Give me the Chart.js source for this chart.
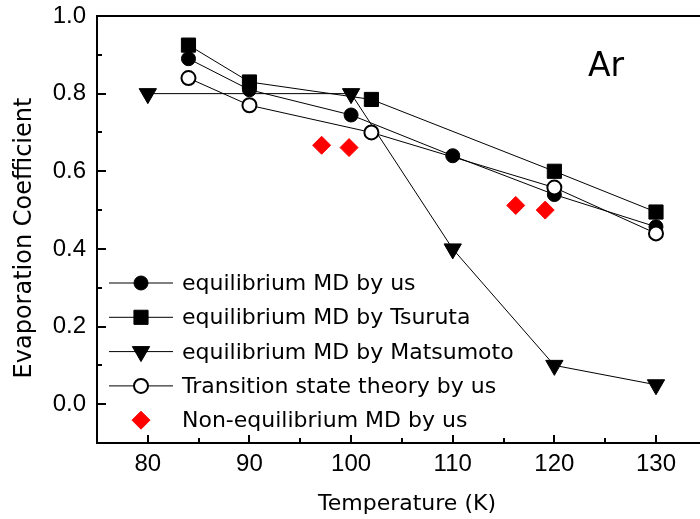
<!DOCTYPE html>
<html lang="en">
<head>
<meta charset="UTF-8">
<title>Evaporation Coefficient of Ar</title>
<script src="https://cdn.jsdelivr.net/npm/chart.js"></script>
<style>
  body { margin: 0; background: #fff; }
  canvas { display: block; }
</style>
</head>
<body>
<canvas id="chart" width="700" height="519"></canvas>
<script>
// values
const tempUs = [84, 90, 100, 110, 120, 130];
const coefUs = [0.89, 0.81, 0.745, 0.64, 0.54, 0.457];

const tempTsuruta = [84, 90, 102, 120, 130];
const coefTsuruta = [0.925, 0.83, 0.785, 0.60, 0.495];

const tempMatsumoto = [80, 100, 110, 120, 130];
const coefMatsumoto = [0.80, 0.80, 0.40, 0.10, 0.05];

const tempTST = [84, 90, 102, 120, 130];
const coefTST = [0.84, 0.77, 0.70, 0.558, 0.44];

const tempNonEq = [97.1, 99.8, 116.2, 119.1];
const coefNonEq = [0.667, 0.661, 0.512, 0.50];

const seriesLabels = [
  'equilibrium MD by us',
  'equilibrium MD by Tsuruta',
  'equilibrium MD by Matsumoto',
  'Transition state theory by us',
  'Non-equilibrium MD by us'
];
const xTicks = [80, 90, 100, 110, 120, 130];
const yTicks = [0.0, 0.2, 0.4, 0.6, 0.8, 1.0];

const pts = (xs, ys) => xs.map((x, i) => ({ x: x, y: ys[i] }));

const datasets = [
  { label: seriesLabels[0], data: pts(tempUs, coefUs), showLine: true,
    borderColor: '#000', borderWidth: 1, pointStyle: 'circle', pointRadius: 7,
    pointBackgroundColor: '#000', pointBorderColor: '#000', pointBorderWidth: 1, order: 2 },
  { label: seriesLabels[1], data: pts(tempTsuruta, coefTsuruta), showLine: true,
    borderColor: '#000', borderWidth: 1, pointStyle: 'rect', pointRadius: 10,
    pointBackgroundColor: '#000', pointBorderColor: '#000', pointBorderWidth: 1, order: 3 },
  { label: seriesLabels[2], data: pts(tempMatsumoto, coefMatsumoto), showLine: true,
    borderColor: '#000', borderWidth: 1, pointStyle: 'triangle', pointRotation: 180, pointRadius: 10,
    pointBackgroundColor: '#000', pointBorderColor: '#000', pointBorderWidth: 1, order: 4 },
  { label: seriesLabels[3], data: pts(tempTST, coefTST), showLine: true,
    borderColor: '#000', borderWidth: 1, pointStyle: 'circle', pointRadius: 7,
    pointBackgroundColor: '#fff', pointBorderColor: '#000', pointBorderWidth: 2, order: 1 },
  { label: seriesLabels[4], data: pts(tempNonEq, coefNonEq), showLine: false,
    borderColor: '#f00', pointStyle: 'rectRot', pointRadius: 9,
    pointBackgroundColor: '#f00', pointBorderColor: '#f00', pointBorderWidth: 1, order: 0 }
];

function marker(ctx, ds, x, y) {
  ctx.save();
  ctx.fillStyle = ds.pointBackgroundColor;
  ctx.strokeStyle = ds.pointBorderColor;
  ctx.lineWidth = ds.pointBorderWidth;
  Chart.helpers.drawPoint(ctx, {
    pointStyle: ds.pointStyle, radius: ds.pointRadius,
    rotation: ds.pointRotation || 0, borderWidth: ds.pointBorderWidth
  }, x, y);
  ctx.restore();
}

// no extra room for edge labels, the plot box is fixed
function noPad(s) {
  s.paddingTop = 0; s.paddingBottom = 0;
  s.paddingLeft = 0; s.paddingRight = 0;
}

// frame, inward ticks, legend and titles
const decor = {
  id: 'decor',
  afterDraw(chart) {
    const ctx = chart.ctx;
    const area = chart.chartArea;
    const xs = chart.scales.x, ys = chart.scales.y;
    ctx.save();
    ctx.strokeStyle = '#000';
    ctx.lineWidth = 2;
    ctx.beginPath();
    ctx.moveTo(area.left - 1, area.top);
    ctx.lineTo(area.right, area.top);
    ctx.stroke();

    // x ticks pointing up
    ctx.beginPath();
    xTicks.forEach((v) => {
      const px = Math.round(xs.getPixelForValue(v));
      ctx.moveTo(px, area.bottom); ctx.lineTo(px, area.bottom - 8);
      const m = v + 5;
      if (m < xs.max) {
        const pm = Math.round(xs.getPixelForValue(m));
        ctx.moveTo(pm, area.bottom); ctx.lineTo(pm, area.bottom - 5);
      }
    });
    // y ticks pointing right
    yTicks.forEach((v) => {
      const py = Math.round(ys.getPixelForValue(v));
      ctx.moveTo(area.left, py); ctx.lineTo(area.left + 9, py);
      const m = v + 0.1;
      if (m < ys.max - 0.01) {
        const pm = Math.round(ys.getPixelForValue(m));
        ctx.moveTo(area.left, pm); ctx.lineTo(area.left + 5, pm);
      }
    });
    ctx.stroke();

    // legend
    const ds = chart.data.datasets;
    ctx.font = '22px "DejaVu Sans"';
    ctx.fillStyle = '#000';
    ctx.textAlign = 'left';
    ctx.textBaseline = 'alphabetic';
    ds.forEach((d, i) => {
      const y = 283 + i * 34.3;
      if (d.showLine) {
        ctx.lineWidth = 1;
        ctx.strokeStyle = '#000';
        ctx.beginPath();
        ctx.moveTo(109, y); ctx.lineTo(173, y);
        ctx.stroke();
      }
      marker(ctx, d, 141, y);
      ctx.fillStyle = '#000';
      ctx.fillText(d.label, 182, y + 7);
    });

    // titles
    ctx.font = '22px "DejaVu Sans"';
    ctx.textAlign = 'center';
    ctx.fillText('Temperature (K)', 407, 510);
    ctx.save();
    ctx.translate(31, 238);
    ctx.rotate(-Math.PI / 2);
    ctx.font = '24px "DejaVu Sans"';
    ctx.fillText('Evaporation Coefficient', 0, 0);
    ctx.restore();

    ctx.font = '33px "DejaVu Sans"';
    ctx.textAlign = 'left';
    ctx.fillText('Ar', 588, 76);
    ctx.restore();
  }
};

new Chart(document.getElementById('chart'), {
  type: 'scatter',
  data: { datasets: datasets },
  options: {
    responsive: false,
    animation: false,
    layout: { autoPadding: false, padding: { top: 16, right: 0, left: 0, bottom: 0 } },
    plugins: { legend: { display: false }, tooltip: { enabled: false } },
    scales: {
      x: {
        type: 'linear', min: 75, max: 134.33,
        afterBuildTicks: (s) => { s.ticks = xTicks.map(v => ({ value: v })); },
        afterFit: (s) => { s.height = 76; noPad(s); },
        grid: { display: false, drawTicks: false },
        border: { display: true, color: '#000', width: 2 },
        ticks: { color: '#000', padding: 7, maxRotation: 0, autoSkip: false,
          font: { family: '"Liberation Sans", Arial', size: 24 } }
      },
      y: {
        type: 'linear', min: -0.1, max: 1.0,
        afterBuildTicks: (s) => { s.ticks = yTicks.map(v => ({ value: v })); },
        afterFit: (s) => { s.width = 97; noPad(s); },
        grid: { display: false, drawTicks: false },
        border: { display: true, color: '#000', width: 2 },
        ticks: { color: '#000', padding: 11, autoSkip: false,
          callback: (v) => Number(v).toFixed(1),
          font: { family: '"Liberation Sans", Arial', size: 24 } }
      }
    }
  },
  plugins: [decor]
});
</script>
</body>
</html>
